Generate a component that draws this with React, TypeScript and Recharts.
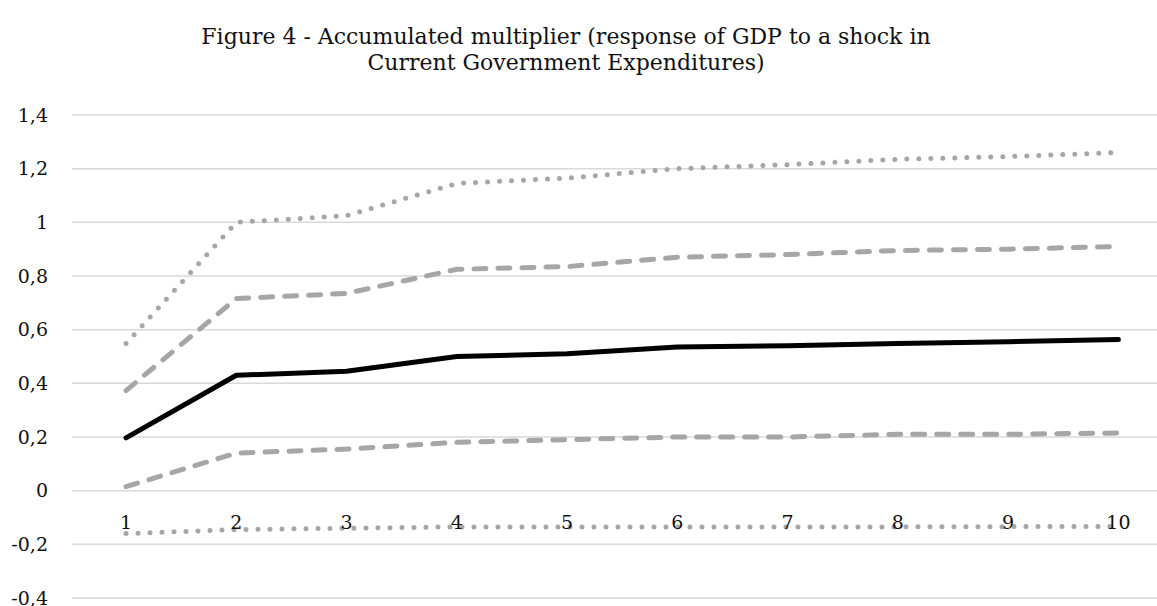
import { CartesianGrid, Line, LineChart, XAxis, YAxis } from 'recharts';

const periods = [1, 2, 3, 4, 5, 6, 7, 8, 9, 10];
const upperDotted = [0.548, 1.0, 1.025, 1.145, 1.165, 1.2, 1.215, 1.235, 1.245, 1.26];
const upperDashed = [0.373, 0.716, 0.735, 0.825, 0.835, 0.87, 0.88, 0.895, 0.9, 0.91];
const multiplier = [0.197, 0.43, 0.445, 0.5, 0.51, 0.535, 0.54, 0.548, 0.555, 0.563];
const lowerDashed = [0.015, 0.14, 0.155, 0.18, 0.19, 0.2, 0.2, 0.21, 0.21, 0.215];
const lowerDotted = [-0.16, -0.145, -0.14, -0.135, -0.135, -0.135, -0.135, -0.135, -0.134, -0.133];
const yTicks = [-0.4, -0.2, 0, 0.2, 0.4, 0.6, 0.8, 1, 1.2, 1.4];

const data = periods.map((p, i) => ({
  period: p,
  upperDotted: upperDotted[i],
  upperDashed: upperDashed[i],
  multiplier: multiplier[i],
  lowerDashed: lowerDashed[i],
  lowerDotted: lowerDotted[i],
}));

const FONT = '"DejaVu Serif", serif';
const GRAY = '#a6a6a6';

const fmt = (v: number) => String(Math.round(v * 10) / 10).replace('.', ',');

// Excel puts the category labels just under the zero line, not at the bottom
function PeriodTick({ x, y, payload }: any) {
  return (
    <text x={x} y={y - 69} textAnchor="middle" fontFamily={FONT} fontSize={19} fill="#111">
      {payload.value}
    </text>
  );
}

export default function App() {
  return (
    <div style={{ position: 'absolute', left: 0, top: 0, width: 1157, height: 606, background: '#fff' }}>
      <div
        style={{
          position: 'absolute',
          left: 0,
          top: 24,
          width: 1132,
          textAlign: 'center',
          fontFamily: FONT,
          fontSize: 22,
          lineHeight: '26px',
          color: '#111',
        }}
      >
        Figure 4 - Accumulated multiplier (response of GDP to a shock in
        <br />
        Current Government Expenditures)
      </div>
      <LineChart width={1157} height={606} data={data} margin={{ top: 115, right: 0, bottom: 0, left: 0 }}>
        <CartesianGrid vertical={false} stroke="#d9d9d9" strokeWidth={1.5} />
        <XAxis
          dataKey="period"
          type="number"
          domain={[0.51, 10.35]}
          ticks={periods}
          interval={0}
          allowDataOverflow
          axisLine={false}
          tickLine={false}
          tickSize={0}
          tickMargin={0}
          height={8}
          tick={<PeriodTick />}
        />
        <YAxis
          domain={[-0.4, 1.4]}
          ticks={yTicks}
          interval={0}
          tickFormatter={fmt}
          axisLine={false}
          tickLine={false}
          width={72}
          tickMargin={18}
          tick={{ fontFamily: FONT, fontSize: 19, fill: '#111' }}
        />
        <Line dataKey="upperDotted" stroke={GRAY} strokeWidth={5} strokeDasharray="0 12" strokeLinecap="round" dot={false} isAnimationActive={false} />
        <Line dataKey="upperDashed" stroke={GRAY} strokeWidth={5} strokeDasharray="12 12" strokeLinecap="round" dot={false} isAnimationActive={false} />
        <Line dataKey="lowerDashed" stroke={GRAY} strokeWidth={5} strokeDasharray="12 12" strokeLinecap="round" dot={false} isAnimationActive={false} />
        <Line dataKey="lowerDotted" stroke={GRAY} strokeWidth={5} strokeDasharray="0 12" strokeLinecap="round" dot={false} isAnimationActive={false} />
        <Line dataKey="multiplier" stroke="#000" strokeWidth={5} strokeLinecap="round" strokeLinejoin="round" dot={false} isAnimationActive={false} />
      </LineChart>
    </div>
  );
}
